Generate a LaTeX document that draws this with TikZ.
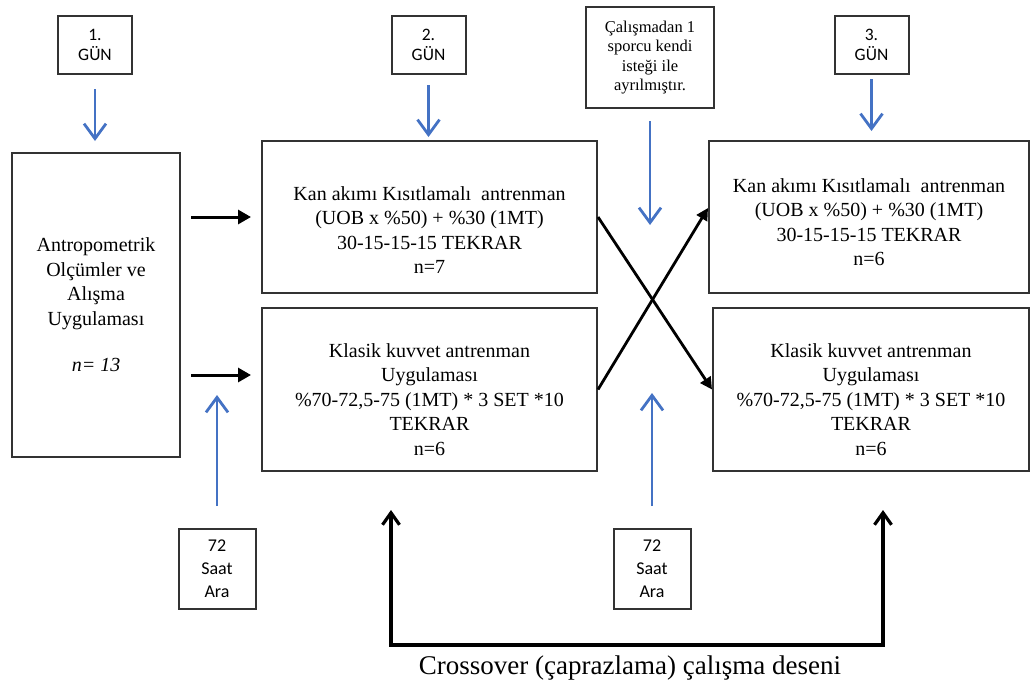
\documentclass[tikz,border=0pt]{standalone}
\usepackage{fontspec}
\setmainfont{Liberation Serif}
\newfontfamily\calibri{Carlito}
\usepackage{tikz}
\usetikzlibrary{arrows.meta}
\definecolor{arrowblue}{HTML}{4472C4}
\definecolor{boxgray}{HTML}{333333}
\tikzset{daybox/.style={draw=boxgray,line width=2pt,minimum width=74pt,minimum height=58pt,
   align=center,inner sep=0pt,font=\calibri\fontsize{17.5}{20}\selectfont},
 arabox/.style={draw=boxgray,line width=2pt,minimum width=77pt,minimum height=80pt,
   align=center,inner sep=0pt,font=\calibri\fontsize{18}{23}\selectfont},
 notebox/.style={draw=boxgray,line width=2pt,minimum width=128pt,minimum height=101pt,
   align=center,inner sep=0pt,font=\fontsize{16.5}{19.5}\selectfont},
 bigbox/.style={draw=boxgray,line width=2pt,inner sep=0pt},
 boxtext/.style={align=center,inner sep=0pt,font=\fontsize{20}{24.5}\selectfont},
 bluearrow/.style={draw=arrowblue,line width=2.8pt,-{Straight Barb[length=15pt,width=22pt]}},
 blackarrow/.style={draw=black,line width=3pt,-{Triangle[length=13pt,width=14pt]}},
 crossline/.style={draw=black,line width=2.8pt,-{Triangle[length=12pt,width=12pt]}},
 backarrow/.style={draw=black,line width=3.2pt,{Straight Barb[length=12pt,width=17pt]}-{Straight Barb[length=12pt,width=17pt]}},
 }

\begin{document}
\begin{tikzpicture}[x=1pt,y=-1pt]
\useasboundingbox (0,0) rectangle (1032,689);

\foreach \d/\x in {1/95,2/428.5,3/871.5} {
    \node[daybox] (day\d) at (\x,45) {\d.\\GÜN};
}
\node[notebox] (note) at (650,57.5) {Çalışmadan 1\\sporcu kendi\\isteği ile\\ayrılmıştır.};

\node[bigbox,minimum width=168pt,minimum height=304pt] (olcum) at (96,305) {};
\node[boxtext] (olcumtxt) at (olcum.center) {Antropometrik\\Olçümler ve\\Alışma\\Uygulaması\\[22pt]\textit{n= 13}};

\node[bigbox,minimum width=335pt,minimum height=152pt] (kan1) at (429.5,217) {};
\node[boxtext] (kan1txt) at ([yshift=-13pt]kan1.center) {Kan akımı Kısıtlamalı~ antrenman\\(UOB x \%50) + \%30 (1MT)\\30-15-15-15 TEKRAR\\n=7};
\node[bigbox,minimum width=335pt,minimum height=163pt] (klasik1) at (429.5,389.5) {};
\node[boxtext] (klasik1txt) at ([yshift=-10pt]klasik1.center) {Klasik kuvvet antrenman\\Uygulaması\\\%70-72,5-75 (1MT) * 3 SET *10\\TEKRAR\\n=6};

\node[bigbox,minimum width=320pt,minimum height=152pt] (kan2) at (869,217) {};
\node[boxtext] (kan2txt) at ([yshift=-5pt]kan2.center) {Kan akımı Kısıtlamalı~ antrenman\\(UOB x \%50) + \%30 (1MT)\\30-15-15-15 TEKRAR\\n=6};
\node[bigbox,minimum width=316pt,minimum height=163pt] (klasik2) at (871,389.5) {};
\node[boxtext] (klasik2txt) at ([yshift=-10pt]klasik2.center) {Klasik kuvvet antrenman\\Uygulaması\\\%70-72,5-75 (1MT) * 3 SET *10\\TEKRAR\\n=6};

\foreach \a/\x in {1/217,2/652} {
    \node[arabox] (ara\a) at (\x,569) {72\\Saat\\Ara};
}

\draw[bluearrow,shorten <=14pt,shorten >=11pt] (day1.south) -- (day1.south |- olcum.north);
\draw[bluearrow,shorten <=10pt,shorten >=3pt] (day2.south) -- (day2.south |- kan1.north);
\draw[bluearrow,shorten <=4pt,shorten >=9pt] (day3.south) -- (day3.south |- kan2.north);
\coordinate (notetip) at (650,225);
\draw[bluearrow,shorten <=12pt] (note.south) -- (notetip);
\coordinate (ara1tip) at (217,395);
\coordinate (ara2tip) at (652,393);
\draw[bluearrow,shorten <=22pt] (ara1.north) -- (ara1tip);
\draw[bluearrow,shorten <=22pt] (ara2.north) -- (ara2tip);

\coordinate (klasik1in) at ([yshift=14.5pt]klasik1.west);
\draw[blackarrow,shorten <=10pt,shorten >=10pt] (olcum.east |- kan1.west) -- (kan1.west);
\draw[blackarrow,shorten <=10pt,shorten >=10pt] (olcum.east |- klasik1in) -- (klasik1in);

\draw[crossline] (kan1.east) -- (klasik2.west);
\draw[crossline] (klasik1.east) -- ([yshift=9pt]kan2.west);

\coordinate (crossL) at (391,510);
\coordinate (crossR) at (883,510);
\coordinate (crossbase) at (637,645);
\draw[backarrow] (crossL) |- (crossbase) -| (crossR);
\node[font=\fontsize{27}{30}\selectfont,inner sep=0pt] (crosslabel) at (630,668) {Crossover (çaprazlama) çalışma deseni};
\end{tikzpicture}
\end{document}
